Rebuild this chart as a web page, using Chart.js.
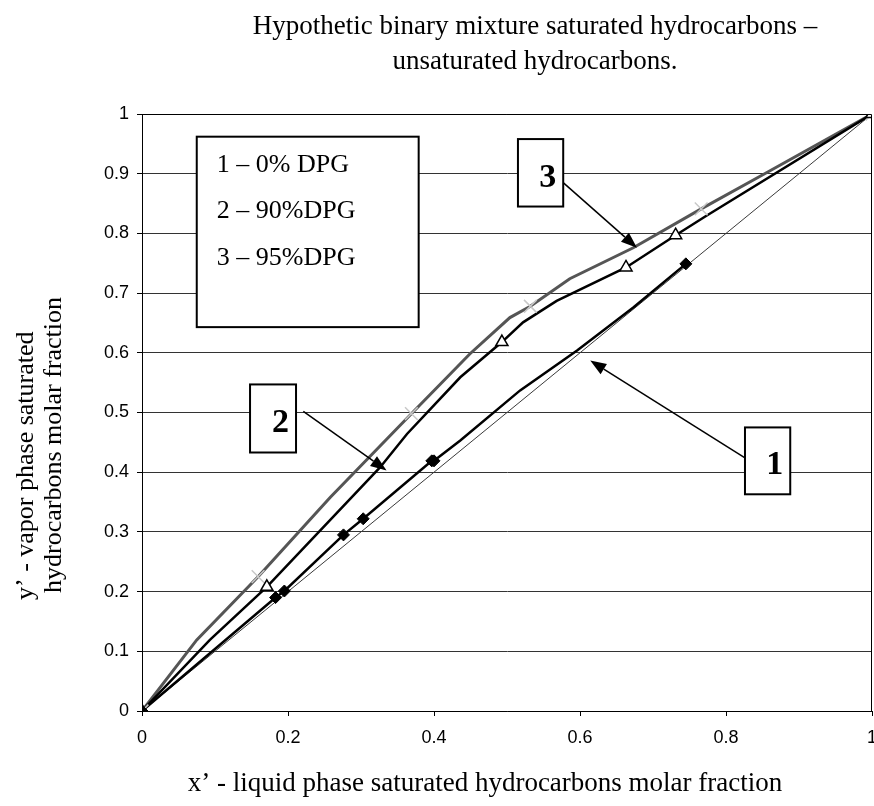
<!DOCTYPE html>
<html>
<head>
<meta charset="utf-8">
<script src="https://cdn.jsdelivr.net/npm/chart.js@4/dist/chart.umd.min.js"></script>
<style>
  html, body { margin: 0; padding: 0; background: #fff; }
</style>
</head>
<body>
<canvas id="grafico" width="874" height="806"></canvas>
<script>
// curve 1 - 0% DPG
const x1 = [0, 0.183, 0.195, 0.276, 0.303, 0.397, 0.40, 0.436, 0.518, 0.596, 0.673, 0.745];
const y1 = [0, 0.190, 0.201, 0.295, 0.322, 0.419, 0.419, 0.453, 0.537, 0.604, 0.676, 0.749];
const mark1x = [0, 0.183, 0.195, 0.276, 0.303, 0.397, 0.40, 0.745];
const mark1y = [0, 0.190, 0.201, 0.295, 0.322, 0.419, 0.419, 0.749];

// curve 2 - 90% DPG
const x2 = [0, 0.093, 0.171, 0.326, 0.363, 0.436, 0.493, 0.522, 0.568, 0.663, 0.731, 0.771, 1];
const y2 = [0, 0.119, 0.208, 0.408, 0.464, 0.559, 0.618, 0.651, 0.687, 0.743, 0.797, 0.828, 1];
const mark2x = [0, 0.171, 0.493, 0.663, 0.731, 1];
const mark2y = [0, 0.208, 0.618, 0.743, 0.797, 1];

// curve 3 - 95% DPG
const x3 = [0, 0.075, 0.159, 0.258, 0.369, 0.449, 0.504, 0.532, 0.586, 0.673, 0.766, 0.856, 1];
const y3 = [0, 0.119, 0.225, 0.358, 0.498, 0.598, 0.659, 0.678, 0.724, 0.776, 0.841, 0.902, 1];
const mark3x = [0, 0.159, 0.369, 0.532, 0.766, 1];
const mark3y = [0, 0.225, 0.498, 0.678, 0.841, 1];

// y = x reference line
const diagX = [0, 1];
const diagY = [0, 1];

const legendLines = ["1 \u2013 0% DPG", "2 \u2013 90%DPG", "3 \u2013 95%DPG"];
const titleLines = ["Hypothetic binary mixture saturated hydrocarbons \u2013", "unsaturated hydrocarbons."];
const xTitle = "x\u2019 - liquid phase saturated hydrocarbons molar fraction";
const yTitle = ["y\u2019 - vapor phase saturated", "hydrocarbons molar fraction"];

const pts = (xs, ys) => xs.map((v, i) => ({ x: v, y: ys[i] }));

const SERIF = '"Liberation Serif", "Times New Roman", serif';
const SANS = '"Liberation Sans", Arial, sans-serif';

// callouts: box [x0, y0, x1, y1] in data units, arrow from -> tip
const callouts = [
  { label: "3", box: [0.515, 0.958, 0.577, 0.845], from: [0.577, 0.885], tip: [0.678, 0.776] },
  { label: "2", box: [0.148, 0.547, 0.211, 0.433], from: [0.221, 0.502], tip: [0.335, 0.403] },
  { label: "1", box: [0.826, 0.475, 0.888, 0.363], from: [0.826, 0.424], tip: [0.614, 0.587] },
];
const legendBox = [0.075, 0.962, 0.379, 0.643];

const tickText = (v) => String(Number(v.toFixed(2)));

function arrow(ctx, x0, y0, x1, y1) {
  const ang = Math.atan2(y1 - y0, x1 - x0);
  const len = 16, half = 6;
  const bx = x1 - len * Math.cos(ang);
  const by = y1 - len * Math.sin(ang);
  ctx.beginPath();
  ctx.moveTo(x0, y0);
  ctx.lineTo(bx, by);
  ctx.stroke();
  ctx.beginPath();
  ctx.moveTo(x1, y1);
  ctx.lineTo(bx + half * Math.sin(ang), by - half * Math.cos(ang));
  ctx.lineTo(bx - half * Math.sin(ang), by + half * Math.cos(ang));
  ctx.closePath();
  ctx.fill();
}

const decoracao = {
  id: "decoracao",
  afterDraw(chart) {
    const { ctx, chartArea: a, scales: { x, y } } = chart;
    const px = (v) => x.getPixelForValue(v);
    const py = (v) => y.getPixelForValue(v);
    ctx.save();

    // top and right edge of plot area
    ctx.strokeStyle = "#000";
    ctx.lineWidth = 1;
    ctx.beginPath();
    ctx.moveTo(a.left, a.top + 0.5);
    ctx.lineTo(a.right - 0.5, a.top + 0.5);
    ctx.lineTo(a.right - 0.5, a.bottom);
    ctx.stroke();

    // x tick labels (drawn here so the last one may run off the edge)
    ctx.fillStyle = "#000";
    ctx.font = "18px " + SANS;
    ctx.textAlign = "center";
    ctx.textBaseline = "middle";
    x.ticks.forEach((t) => ctx.fillText(tickText(t.value), px(t.value), a.bottom + 27));

    // legend box
    const lx0 = px(legendBox[0]), ly0 = py(legendBox[1]);
    const lx1 = px(legendBox[2]), ly1 = py(legendBox[3]);
    ctx.fillStyle = "#fff";
    ctx.fillRect(lx0, ly0, lx1 - lx0, ly1 - ly0);
    ctx.lineWidth = 2;
    ctx.strokeRect(lx0, ly0, lx1 - lx0, ly1 - ly0);
    ctx.fillStyle = "#000";
    ctx.font = "26px " + SERIF;
    ctx.textAlign = "left";
    ctx.textBaseline = "alphabetic";
    legendLines.forEach((t, i) => ctx.fillText(t, lx0 + 20, ly0 + 35 + i * 46.5));

    // numbered callouts with arrows
    callouts.forEach((c) => {
      const bx0 = px(c.box[0]), by0 = py(c.box[1]);
      const bx1 = px(c.box[2]), by1 = py(c.box[3]);
      ctx.lineWidth = 1.5;
      ctx.strokeStyle = "#000";
      ctx.fillStyle = "#000";
      arrow(ctx, px(c.from[0]), py(c.from[1]), px(c.tip[0]), py(c.tip[1]));
      ctx.fillStyle = "#fff";
      ctx.fillRect(bx0, by0, bx1 - bx0, by1 - by0);
      ctx.lineWidth = 2;
      ctx.strokeRect(bx0, by0, bx1 - bx0, by1 - by0);
      ctx.fillStyle = "#000";
      ctx.font = "bold 34px " + SERIF;
      ctx.textAlign = "right";
      ctx.fillText(c.label, bx1 - 7, by1 - 20);
    });

    // titles
    ctx.font = "27px " + SERIF;
    ctx.textAlign = "center";
    ctx.fillText(titleLines[0], 535, 34);
    ctx.fillText(titleLines[1], 535, 69);
    ctx.fillText(xTitle, 485, 791);

    ctx.font = "26px " + SERIF;
    ctx.textAlign = "left";
    ctx.save();
    ctx.translate(33, 600);
    ctx.rotate(-Math.PI / 2);
    ctx.fillText(yTitle[0], 0, 0);
    ctx.restore();
    ctx.save();
    ctx.translate(61, 593);
    ctx.rotate(-Math.PI / 2);
    ctx.fillText(yTitle[1], 0, 0);
    ctx.restore();

    ctx.restore();
  },
};

new Chart(document.getElementById("grafico"), {
  type: "scatter",
  data: {
    datasets: [
      {
        data: pts(diagX, diagY),
        showLine: true,
        borderColor: "#3a3a3a",
        borderWidth: 1,
        pointRadius: 0,
        order: 5,
      },
      {
        data: pts(x1, y1),
        showLine: true,
        borderColor: "#000",
        borderWidth: 2.5,
        pointRadius: 0,
        order: 4,
      },
      {
        data: pts(x2, y2),
        showLine: true,
        borderColor: "#000",
        borderWidth: 2.5,
        pointRadius: 0,
        order: 4,
      },
      {
        data: pts(x3, y3),
        showLine: true,
        borderColor: "#555",
        borderWidth: 3,
        pointRadius: 0,
        order: 4,
      },
      {
        data: pts(mark1x, mark1y),
        pointStyle: "rectRot",
        pointRadius: 6,
        backgroundColor: "#000",
        borderColor: "#000",
        borderWidth: 1,
        order: 1,
      },
      {
        data: pts(mark2x, mark2y),
        pointStyle: "triangle",
        pointRadius: 7,
        backgroundColor: "#fff",
        borderColor: "#000",
        borderWidth: 1.5,
        order: 1,
      },
      {
        data: pts(mark3x, mark3y),
        pointStyle: "crossRot",
        pointRadius: 9,
        backgroundColor: "#c8c8c8",
        borderColor: "#c8c8c8",
        borderWidth: 1.5,
        order: 1,
      },
    ],
  },
  options: {
    responsive: false,
    animation: false,
    // no room kept for the markers at (1, 1)
    layout: { autoPadding: false, padding: { top: 114, right: 2, left: 0, bottom: 0 } },
    plugins: { legend: { display: false }, tooltip: { enabled: false } },
    scales: {
      x: {
        type: "linear",
        min: 0,
        max: 1,
        ticks: { stepSize: 0.2, display: false },
        grid: { drawOnChartArea: false, tickLength: 5, tickColor: "#000" },
        border: { color: "#000", width: 1 },
        afterFit: (s) => {
          s.height = 95;
        },
      },
      y: {
        min: 0,
        max: 1,
        ticks: {
          stepSize: 0.1,
          color: "#000",
          font: { family: SANS, size: 18 },
          padding: 8,
          callback: tickText,
        },
        grid: { color: "#333", tickLength: 5, tickColor: "#000" },
        border: { color: "#000", width: 1 },
        afterFit: (s) => {
          s.width = 142;
          s.paddingTop = 0;
          s.paddingBottom = 0;
        },
      },
    },
  },
  plugins: [decoracao],
});
</script>
</body>
</html>
